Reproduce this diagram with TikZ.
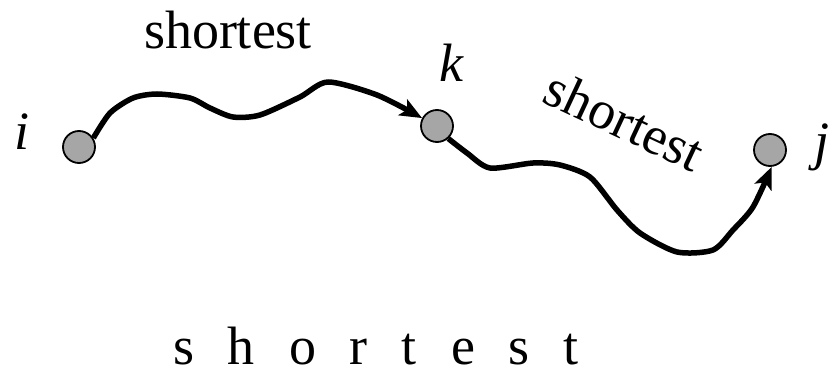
\documentclass[tikz,border=0pt]{standalone}
\usepackage{fontspec}
\setmainfont{LiberationSerif}[Extension=.ttf,UprightFont=*-Regular,ItalicFont=*-Italic,BoldFont=*-Bold,BoldItalicFont=*-BoldItalic]
\usetikzlibrary{arrows.meta}
\begin{document}
\begin{tikzpicture}[x=1pt,y=-1pt,
  vtx/.style={circle,draw=black,fill=black!35,line width=1.8pt,minimum size=32pt,inner sep=0pt},
  lbl/.style={font=\fontsize{54}{60}\selectfont,inner sep=0pt},
  vlbl/.style={font=\fontsize{54}{60}\selectfont\itshape,inner sep=0pt},
  pathline/.style={line width=5.5pt,-{Stealth[length=22pt,width=18pt,inset=5pt]},line join=round}
]
\useasboundingbox (0,0) rectangle (838,371);
\node[vtx] (i) at (79,147) {};
\node[vtx] (k) at (437,126) {};
\node[vtx] (j) at (770,150) {};
\node[vlbl,anchor=base] (li) at (22,150) {i};
\node[vlbl,anchor=base] (lk) at (451,82) {k};
\node[vlbl,anchor=base west] (lj) at (814,160) {j};
\node[lbl,anchor=base] (t1) at (228,49) {shortest};
\node[lbl,anchor=base,rotate=-25] (t2) at (617,137) {shortest};
\node[lbl,anchor=base] (t3) at (376,364) {s\hspace{34pt}h\hspace{34pt}o\hspace{34pt}r\hspace{34pt}t\hspace{34pt}e\hspace{34pt}s\hspace{34pt}t};
\draw[pathline] plot[smooth,tension=0.45] coordinates {(i.32) (110,113) (133,98) (157,94) (190,98) (210,108) (233,117) (260,115) (300,97) (328,82) (377,95) (k.152)};
\draw[pathline] plot[smooth,tension=0.45] coordinates {(k.312) (467,153) (490,168) (533,163) (560,165) (590,177) (617,210) (640,233) (677,252) (713,250) (733,230) (753,207) (j.276)};
\end{tikzpicture}
\end{document}
